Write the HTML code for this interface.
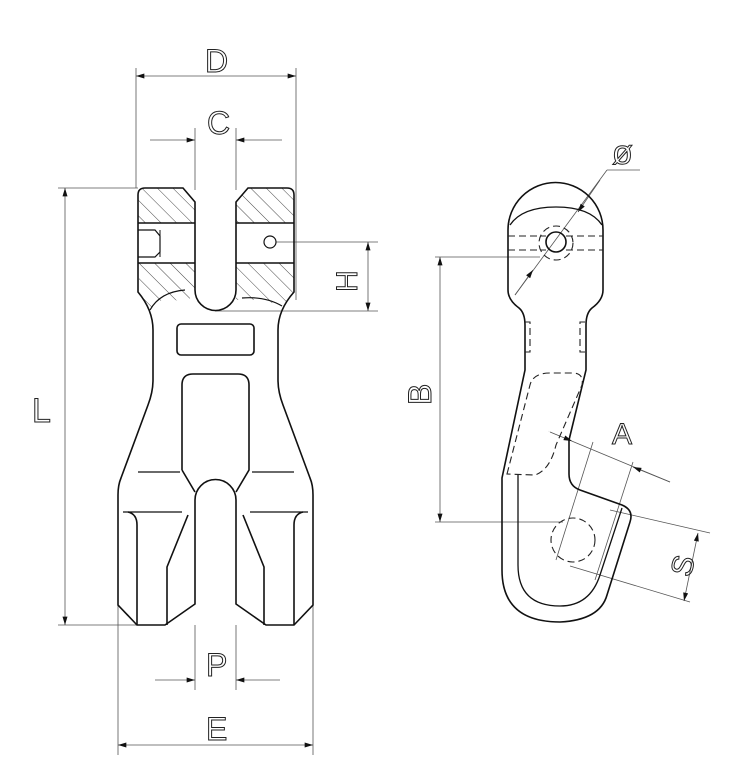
<!DOCTYPE html>
<html><head><meta charset="utf-8"><style>
html,body{margin:0;padding:0;background:#fff;}
svg{display:block;}
text{font-family:"Liberation Sans",sans-serif;fill:none;stroke:#222;stroke-width:1;font-weight:100;}
</style></head><body>
<svg width="743" height="783" viewBox="0 0 743 783" xmlns="http://www.w3.org/2000/svg">
<defs>
<pattern id="h" patternUnits="userSpaceOnUse" width="11" height="11" patternTransform="rotate(-45)">
<line x1="0" y1="0" x2="0" y2="11" stroke="#333" stroke-width="0.9"/>
</pattern>
<marker id="a" viewBox="0 0 10 6" refX="10" refY="3" markerWidth="12" markerHeight="5" orient="auto-start-reverse" markerUnits="userSpaceOnUse">
<path d="M0,0 L10,3 L0,6 z" fill="#111"/>
</marker>
</defs>
<g fill="none" stroke="#555" stroke-width="0.8">
<line x1="136" y1="68" x2="136" y2="188"/><line x1="296" y1="68" x2="296" y2="300"/>
<line x1="136" y1="76" x2="296" y2="76" marker-start="url(#a)" marker-end="url(#a)"/>
<line x1="195" y1="128" x2="195" y2="190"/><line x1="236" y1="128" x2="236" y2="190"/>
<line x1="150" y1="140" x2="195" y2="140" marker-end="url(#a)"/>
<line x1="282" y1="140" x2="236" y2="140" marker-end="url(#a)"/>
<line x1="58" y1="188" x2="138" y2="188"/><line x1="58" y1="625" x2="137" y2="625"/>
<line x1="65" y1="188" x2="65" y2="625" marker-start="url(#a)" marker-end="url(#a)"/>
<line x1="276" y1="242" x2="378" y2="242"/><line x1="215" y1="311" x2="378" y2="311"/>
<line x1="368" y1="242" x2="368" y2="311" marker-start="url(#a)" marker-end="url(#a)"/>
<line x1="195" y1="625" x2="195" y2="690"/><line x1="236" y1="625" x2="236" y2="690"/>
<line x1="155" y1="680" x2="195" y2="680" marker-end="url(#a)"/>
<line x1="280" y1="680" x2="236" y2="680" marker-end="url(#a)"/>
<line x1="118" y1="560" x2="118" y2="755"/><line x1="313" y1="560" x2="313" y2="755"/>
<line x1="118" y1="745" x2="313" y2="745" marker-start="url(#a)" marker-end="url(#a)"/>
<line x1="435" y1="257" x2="540" y2="257"/><line x1="435" y1="522" x2="563" y2="522"/>
<line x1="440" y1="257" x2="440" y2="522" marker-start="url(#a)" marker-end="url(#a)"/>
<line x1="607" y1="170" x2="640" y2="170"/>
<line x1="607" y1="170" x2="515" y2="295"/>
<line x1="600" y1="180" x2="578" y2="212" marker-end="url(#a)"/>
<line x1="515" y1="295" x2="533" y2="270" marker-end="url(#a)"/>
<line x1="550" y1="432" x2="670" y2="482"/>
<line x1="548" y1="431" x2="572" y2="441" stroke-width="0.1" marker-end="url(#a)"/>
<line x1="670" y1="482" x2="633" y2="467" marker-end="url(#a)"/>
<line x1="593" y1="442" x2="556" y2="560"/>
<line x1="633" y1="462" x2="595" y2="580"/>
<line x1="610" y1="510" x2="710" y2="533"/><line x1="570" y1="566" x2="690" y2="602"/>
<line x1="698" y1="533" x2="684" y2="601" marker-start="url(#a)" marker-end="url(#a)"/>
</g>
<g font-size="32">
<text x="205" y="72">D</text>
<text x="207" y="134">C</text>
<text x="32" y="422" font-size="34">L</text>
<text x="206" y="676">P</text>
<text x="206" y="740">E</text>
<text x="612" y="444" font-size="30">A</text>
<text transform="translate(357,292) rotate(-90)" font-size="30">H</text>
<text transform="translate(431,405) rotate(-90)" font-size="32">B</text>
<text transform="translate(690,578) rotate(-75)" font-size="30">S</text>
<text x="612" y="164" font-size="34">ø</text>
</g>
<g stroke="#111" stroke-width="1.6" fill="none">
<path d="M145,188 H183 L195,202 V223 H138 V195 Q138,188 145,188 Z" fill="url(#h)" stroke="none"/>
<path d="M138,263 H195 V290 Q190,305 175,300 Q160,296 150,310 L140,296 Z" fill="url(#h)" stroke="none"/>
<path d="M248,188 H287 Q294,188 294,195 V223 H236 V202 Z" fill="url(#h)" stroke="none"/>
<path d="M236,263 H294 V292 L282,306 Q260,298 236,300 Z" fill="url(#h)" stroke="none"/>
<path d="M195,202 L183,188 H145 Q138,188 138,195 V292 Q153,310 153,330 V380 Q153,392 148,405 L121,478 Q118,485 118,495 V605 L137,625 H165 L195,604 V500 A20.5,20.5 0 0 1 236,500 V604 L266,625 H294 L313,605 V495 Q313,485 310,478 L283,405 Q278,392 278,380 V330 Q278,310 294,292 V195 Q294,188 287,188 H248 L236,202 V290 A20.5,20.5 0 0 1 195,290 Z"/>
<line x1="138" y1="223" x2="195" y2="223"/><line x1="138" y1="263" x2="195" y2="263"/>
<line x1="236" y1="223" x2="294" y2="223"/><line x1="236" y1="263" x2="294" y2="263"/>
<path d="M138,230 H155 L160,236 V252 L155,257 H138" stroke-width="1.2"/>
<line x1="160" y1="230" x2="160" y2="257" stroke-width="1"/>
<circle cx="270" cy="242" r="6" stroke-width="1.2"/>
<path d="M150,310 Q160,292 185,290" stroke-width="1.2"/>
<path d="M282,306 Q265,296 242,298" stroke-width="1.2"/>
<rect x="177" y="324" width="77" height="31" rx="4"/>
<path d="M182,470 V385 Q182,374 193,374 H238 Q249,374 249,385 V470 L236,492 M182,470 L195,492"/>
<line x1="138" y1="472" x2="180" y2="472" stroke-width="1.2"/>
<line x1="252" y1="472" x2="294" y2="472" stroke-width="1.2"/>
<line x1="123" y1="512" x2="182" y2="512" stroke-width="1.2"/>
<line x1="250" y1="512" x2="308" y2="512" stroke-width="1.2"/>
<path d="M128,512 Q137,514 137,525 V625"/>
<path d="M303,512 Q294,514 294,525 V625"/>
<path d="M188,515 L167,567 V625"/>
<path d="M243,515 L264,567 V625"/>
</g>
<g stroke="#111" stroke-width="1.6" fill="none">
<path d="M508,230 A47.5,47.5 0 0 1 603,230 V290 Q603,300 592,308 Q586,313 586,325 V370 L569,440 V474 Q569,486 580,490 L622,505 Q634,510 630,522 L607,595 Q600,620 560,622 Q502,622 502,570 V478 L525,370 V325 Q525,313 519,308 Q508,300 508,290 Z"/>
<path d="M510,225 Q522,207 556,207 Q590,207 602,225" stroke-width="1.3"/>
<path d="M518,475 V565 Q518,606 560,606 Q590,606 600,575 L622,508" stroke-width="1.3"/>
<circle cx="556" cy="242" r="10"/>
</g>
<g stroke="#222" stroke-width="1.1" fill="none" stroke-dasharray="7,4">
<line x1="508" y1="236" x2="546" y2="236"/><line x1="566" y1="236" x2="603" y2="236"/>
<line x1="508" y1="250" x2="546" y2="250"/><line x1="566" y1="250" x2="603" y2="250"/>
<circle cx="556" cy="243" r="17"/>
<path d="M525,322 H530 V352 H525"/><path d="M585,322 H580 V352 H585"/>
<path d="M507,474 L530,385 Q533,373 550,373 H574 Q584,374 582,385 L556,445 Q550,470 535,475 Z"/>
<circle cx="573" cy="540" r="22"/>
</g>
</svg>
</body></html>
